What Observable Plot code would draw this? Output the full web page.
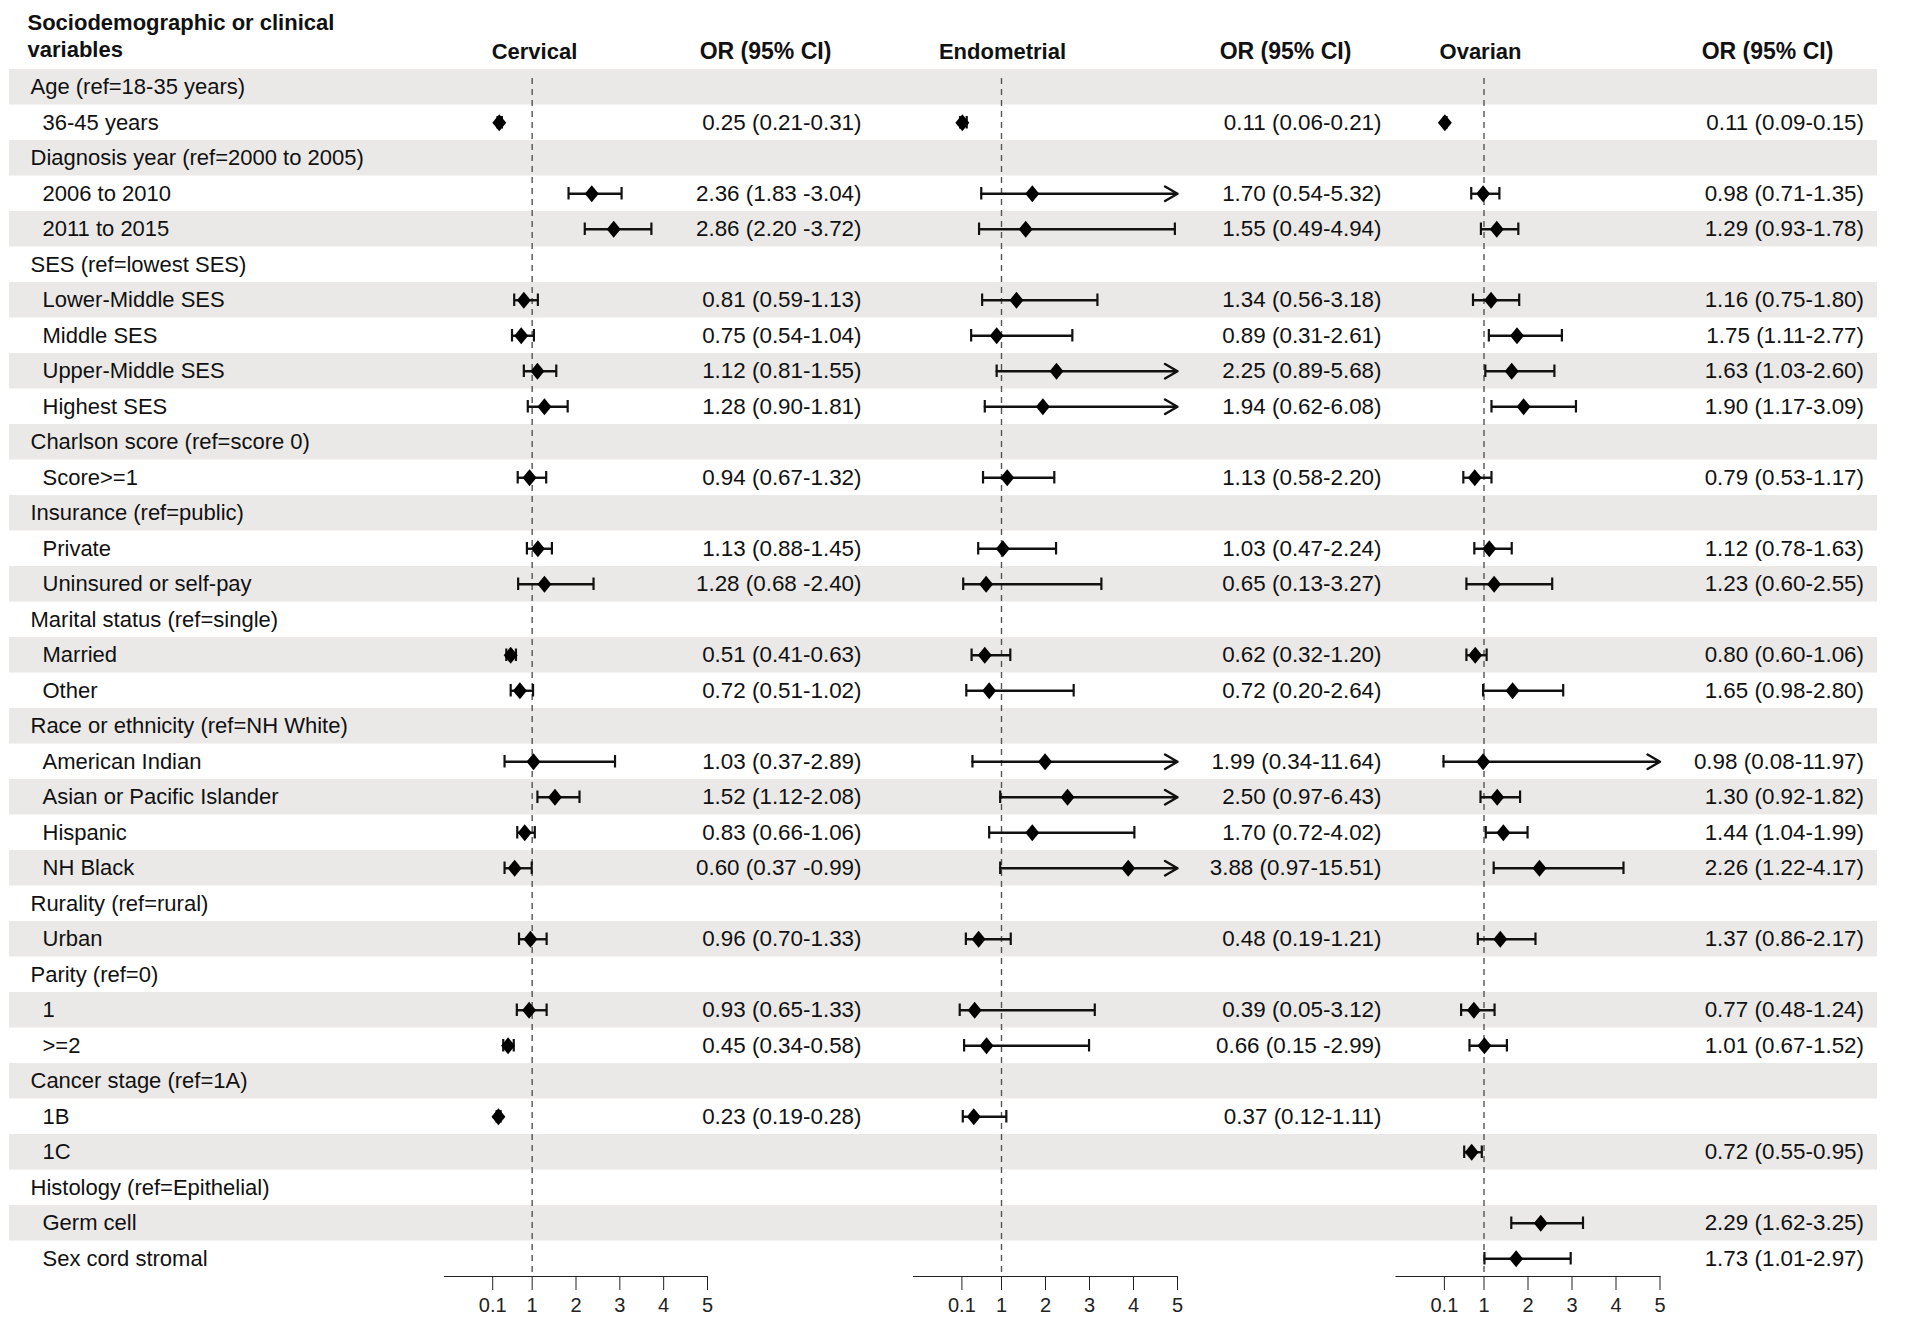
<!DOCTYPE html>
<html>
<head>
<meta charset="utf-8">
<script src="https://cdn.jsdelivr.net/npm/d3@7"></script>
<script src="https://cdn.jsdelivr.net/npm/@observablehq/plot@0.6"></script>
<style>
  html, body { margin: 0; padding: 0; background: #fff; }
  #chart { position: relative; width: 1920px; height: 1321px; font-family: "Liberation Sans", Arial, sans-serif; }
  #chart svg { position: absolute; left: 0; top: 0; }
</style>
</head>
<body>
<div id="chart"></div>
<script>
// ---------------- data ----------------
const rowLabels = [
  "Age (ref=18-35 years)", "36-45 years",
  "Diagnosis year (ref=2000 to 2005)", "2006 to 2010", "2011 to 2015",
  "SES (ref=lowest SES)", "Lower-Middle SES", "Middle SES", "Upper-Middle SES", "Highest SES",
  "Charlson score (ref=score 0)", "Score>=1",
  "Insurance (ref=public)", "Private", "Uninsured or self-pay",
  "Marital status (ref=single)", "Married", "Other",
  "Race or ethnicity (ref=NH White)", "American Indian", "Asian or Pacific Islander", "Hispanic", "NH Black",
  "Rurality (ref=rural)", "Urban",
  "Parity (ref=0)", "1", ">=2",
  "Cancer stage (ref=1A)", "1B", "1C",
  "Histology (ref=Epithelial)", "Germ cell", "Sex cord stromal"
];

const groupLabels = [
  "Age (ref=18-35 years)", "Diagnosis year (ref=2000 to 2005)", "SES (ref=lowest SES)",
  "Charlson score (ref=score 0)", "Insurance (ref=public)", "Marital status (ref=single)",
  "Race or ethnicity (ref=NH White)", "Rurality (ref=rural)", "Parity (ref=0)",
  "Cancer stage (ref=1A)", "Histology (ref=Epithelial)"
];

// OR (95% CI) as printed, one entry per row (null = no estimate)
const cervicalOR = [
  null, "0.25 (0.21-0.31)",
  null, "2.36 (1.83 -3.04)", "2.86 (2.20 -3.72)",
  null, "0.81 (0.59-1.13)", "0.75 (0.54-1.04)", "1.12 (0.81-1.55)", "1.28 (0.90-1.81)",
  null, "0.94 (0.67-1.32)",
  null, "1.13 (0.88-1.45)", "1.28 (0.68 -2.40)",
  null, "0.51 (0.41-0.63)", "0.72 (0.51-1.02)",
  null, "1.03 (0.37-2.89)", "1.52 (1.12-2.08)", "0.83 (0.66-1.06)", "0.60 (0.37 -0.99)",
  null, "0.96 (0.70-1.33)",
  null, "0.93 (0.65-1.33)", "0.45 (0.34-0.58)",
  null, "0.23 (0.19-0.28)", null,
  null, null, null
];

const endometrialOR = [
  null, "0.11 (0.06-0.21)",
  null, "1.70 (0.54-5.32)", "1.55 (0.49-4.94)",
  null, "1.34 (0.56-3.18)", "0.89 (0.31-2.61)", "2.25 (0.89-5.68)", "1.94 (0.62-6.08)",
  null, "1.13 (0.58-2.20)",
  null, "1.03 (0.47-2.24)", "0.65 (0.13-3.27)",
  null, "0.62 (0.32-1.20)", "0.72 (0.20-2.64)",
  null, "1.99 (0.34-11.64)", "2.50 (0.97-6.43)", "1.70 (0.72-4.02)", "3.88 (0.97-15.51)",
  null, "0.48 (0.19-1.21)",
  null, "0.39 (0.05-3.12)", "0.66 (0.15 -2.99)",
  null, "0.37 (0.12-1.11)", null,
  null, null, null
];

const ovarianOR = [
  null, "0.11 (0.09-0.15)",
  null, "0.98 (0.71-1.35)", "1.29 (0.93-1.78)",
  null, "1.16 (0.75-1.80)", "1.75 (1.11-2.77)", "1.63 (1.03-2.60)", "1.90 (1.17-3.09)",
  null, "0.79 (0.53-1.17)",
  null, "1.12 (0.78-1.63)", "1.23 (0.60-2.55)",
  null, "0.80 (0.60-1.06)", "1.65 (0.98-2.80)",
  null, "0.98 (0.08-11.97)", "1.30 (0.92-1.82)", "1.44 (1.04-1.99)", "2.26 (1.22-4.17)",
  null, "1.37 (0.86-2.17)",
  null, "0.77 (0.48-1.24)", "1.01 (0.67-1.52)",
  null, null, "0.72 (0.55-0.95)",
  null, "2.29 (1.62-3.25)", "1.73 (1.01-2.97)"
];

const xDomain = [-1, 5];
const xTicks = [0.1, 1, 2, 3, 4, 5];
const headerVariables = "Sociodemographic or clinical\nvariables";
const headerOR = "OR (95% CI)";

// ---------------- layout / style ----------------
const W = 1920, H = 1321, MT = 69, MB = 45;
const FONT = "'Liberation Sans', Arial, Helvetica, sans-serif";
const BAND = "#ebe9e7";
const INK = "#111";

const diamond = {
  draw(context, size) {
    const h = Math.sqrt(size / Math.PI);
    const w = h * 0.82;
    context.moveTo(0, -h);
    context.lineTo(w, 0);
    context.lineTo(0, h);
    context.lineTo(-w, 0);
    context.closePath();
  }
};

const re = /^([\d.]+)\s*\(([\d.]+)\s*-\s*([\d.]+)\)$/;
function parse(texts) {
  return rowLabels
    .map((label, i) => ({label, text: texts[i]}))
    .filter((d) => d.text)
    .map((d) => {
      const m = d.text.match(re);
      return {...d, or: +m[1], lo: +m[2], hi: +m[3]};
    });
}

const yScale = {domain: rowLabels, axis: null, padding: 0, round: false};
const chart = document.getElementById("chart");

// background: bands, row labels, left header
const background = Plot.plot({
  width: W, height: H,
  marginTop: MT, marginBottom: MB, marginLeft: 9, marginRight: 43,
  style: {background: "#fff", fontFamily: FONT, fontSize: "22px", color: INK},
  y: yScale,
  marks: [
    Plot.cell(rowLabels.filter((d, i) => i % 2 === 0), {y: (d) => d, fill: BAND}),
    Plot.text(rowLabels.filter((d) => groupLabels.includes(d)), {
      y: (d) => d, text: (d) => d, frameAnchor: "left", textAnchor: "start", dx: 21, fill: INK, fontSize: 22
    }),
    Plot.text(rowLabels.filter((d) => !groupLabels.includes(d)), {
      y: (d) => d, text: (d) => d, frameAnchor: "left", textAnchor: "start", dx: 33, fill: INK, fontSize: 22
    }),
    Plot.text([headerVariables], {
      text: (d) => d, frameAnchor: "top-left", textAnchor: "start", lineAnchor: "top", dx: 18, dy: -59,
      lineHeight: 1.23, fontWeight: "bold", fontSize: 22, fill: INK
    })
  ]
});
chart.appendChild(background);

function forest(name, texts, ml, mr, orDx, headDx, orHeadDx) {
  const data = parse(texts);
  const within = data.filter((d) => d.hi <= xDomain[1]);
  const beyond = data.filter((d) => d.hi > xDomain[1]);
  return Plot.plot({
    width: W, height: H,
    marginTop: MT, marginBottom: MB, marginLeft: ml, marginRight: mr,
    style: {background: "transparent", fontFamily: FONT, fontSize: "20px", color: "#222", overflow: "visible"},
    x: {domain: xDomain, ticks: xTicks, tickFormat: (d) => String(d), tickSize: 14, tickPadding: 7, label: null, line: true},
    y: yScale,
    marks: [
      Plot.ruleX([1], {stroke: "#555", strokeWidth: 1.4, strokeDasharray: "6,5", insetTop: 9}),
      Plot.link(within, {x1: "lo", x2: "hi", y1: "label", y2: "label", stroke: INK, strokeWidth: 2.4}),
      Plot.arrow(beyond, {
        x1: "lo", x2: () => xDomain[1], y1: "label", y2: "label",
        stroke: INK, strokeWidth: 2.4, headLength: 9, headAngle: 60
      }),
      Plot.tickX(data, {x: "lo", y: "label", stroke: INK, strokeWidth: 2.2, insetTop: 11.5, insetBottom: 11.5}),
      Plot.tickX(within, {x: "hi", y: "label", stroke: INK, strokeWidth: 2.2, insetTop: 11.5, insetBottom: 11.5}),
      Plot.dot(data, {x: "or", y: "label", symbol: diamond, r: 8.5, fill: "#000", stroke: "none"}),
      Plot.text(data, {
        y: "label", text: "text", frameAnchor: "right", textAnchor: "end", dx: orDx,
        fill: INK, fontSize: 22.4
      }),
      Plot.text([name], {
        text: (d) => d, frameAnchor: "top-left", textAnchor: "middle", dx: headDx, dy: -26,
        fontWeight: "bold", fontSize: 22, fill: INK
      }),
      Plot.text([headerOR], {
        text: (d) => d, frameAnchor: "top-right", textAnchor: "middle", dx: orHeadDx, dy: -27,
        fontWeight: "bold", fontSize: 23, fill: INK
      })
    ]
  });
}

chart.appendChild(forest("Cervical", cervicalOR, 444, 1213, 154, 90, 58));
chart.appendChild(forest("Endometrial", endometrialOR, 913, 743, 204, 89, 108));
chart.appendChild(forest("Ovarian", ovarianOR, 1395.5, 260.5, 204, 84.5, 107.5));
</script>
</body>
</html>
